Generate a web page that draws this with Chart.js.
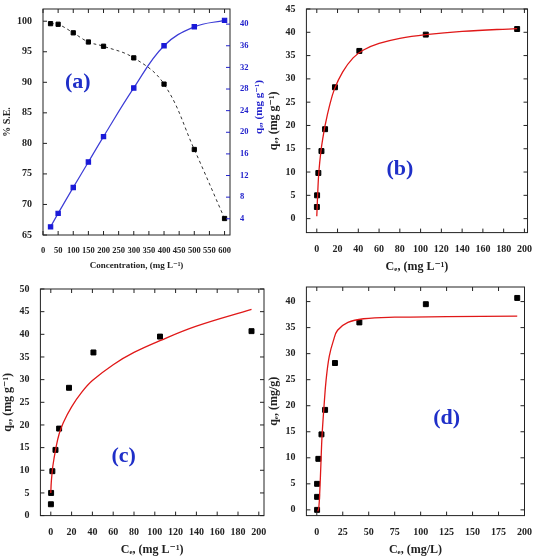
<!DOCTYPE html>
<html>
<head>
<meta charset="utf-8">
<script src="https://cdn.jsdelivr.net/npm/chart.js@4.4.0/dist/chart.umd.min.js"></script>
<style>
  body { margin: 0; background: #fff; width: 535px; height: 558px; position: relative; overflow: hidden; }
  .panel { position: absolute; }
</style>
</head>
<body>
<div class="panel" style="left:0;top:0;width:264px;height:272px"><canvas id="chartA"></canvas></div>
<div class="panel" style="left:266px;top:0;width:269px;height:275px"><canvas id="chartB"></canvas></div>
<div class="panel" style="left:0;top:280px;width:270px;height:278px"><canvas id="chartC"></canvas></div>
<div class="panel" style="left:266px;top:278px;width:269px;height:280px"><canvas id="chartD"></canvas></div>
<script>
// panel (a): effect of initial concentration
const concentration = [25, 50, 100, 150, 200, 300, 400, 500, 600];
const removalPct = [99.6, 99.5, 98.1, 96.6, 95.9, 94.0, 89.7, 79.0, 67.7];
const uptakeA = [2.5, 5.0, 9.8, 14.5, 19.2, 28.2, 36.0, 39.5, 40.7];

// equilibrium points shared by (b), (c), (d)
const ce = [0.1, 0.3, 1.5, 4.5, 8, 17.5, 41, 105, 193];
const qe = [2.5, 5.0, 9.8, 14.5, 19.2, 28.2, 36.0, 39.5, 40.7];
const ceD = [0.3, 0.3, 0.3, 1.5, 4.5, 8, 17.5, 41, 105, 193];
const qeD = [0, 2.5, 5.0, 9.8, 14.5, 19.2, 28.2, 36.0, 39.5, 40.7];

// fitted curves
const fitBx = [0, 1, 2, 4, 6, 8, 12, 17, 25, 35, 45, 60, 80, 105, 140, 193];
const fitBy = [0.5, 6, 10, 14.5, 17.5, 20, 24, 27.8, 31.5, 34.5, 36.2, 37.6, 38.7, 39.5, 40.2, 40.8];
const fitCx = [0, 0.5, 2, 5, 8, 12, 20, 30, 40, 60, 80, 105, 140, 193];
const fitCy = [5, 7.5, 11, 15, 18, 20.5, 24, 27.3, 29.8, 33.3, 36, 38.6, 41.8, 45.5];
const fitDx = [1, 2, 3, 4, 5, 7, 9, 12, 16, 20, 30, 45, 75, 125, 193];
const fitDy = [-0.3, 0.5, 4, 9, 14, 20, 25, 29.5, 32.5, 34.5, 36, 36.7, 37, 37.1, 37.2];

const serif = "'Liberation Serif', 'DejaVu Serif', serif";
const tickFont = { family: serif, size: 10, weight: "bold" };
const titleFont = { family: serif, size: 12, weight: "bold" };

function xy(xs, ys) {
  return xs.map((x, i) => ({ x, y: ys[i] }));
}

const frame = {
  id: "frame",
  afterDraw(chart, args, opts) {
    const { ctx, chartArea: a } = chart;
    ctx.save();
    ctx.strokeStyle = "#222";
    ctx.lineWidth = 1;
    ctx.strokeRect(a.left, a.top, a.right - a.left, a.bottom - a.top);
    // inward ticks on all sides
    const xs = chart.scales.x;
    xs.ticks.forEach((t) => {
      const px = xs.getPixelForValue(t.value);
      ctx.beginPath();
      ctx.moveTo(px, a.bottom); ctx.lineTo(px, a.bottom - 4);
      ctx.moveTo(px, a.top); ctx.lineTo(px, a.top + 4);
      ctx.stroke();
    });
    const ys = chart.scales.y;
    ys.ticks.forEach((t) => {
      const py = ys.getPixelForValue(t.value);
      ctx.beginPath();
      ctx.moveTo(a.left, py); ctx.lineTo(a.left + 4, py);
      if (!chart.scales.y2) { ctx.moveTo(a.right, py); ctx.lineTo(a.right - 4, py); }
      ctx.stroke();
    });
    if (chart.scales.y2) {
      const y2 = chart.scales.y2;
      ctx.strokeStyle = "#2222cc";
      y2.ticks.forEach((t) => {
        const py = y2.getPixelForValue(t.value);
        ctx.beginPath();
        ctx.moveTo(a.right, py); ctx.lineTo(a.right - 4, py);
        ctx.stroke();
      });
      // right title reads bottom-up like the left one
      ctx.save();
      ctx.translate(y2.right - 5, (a.top + a.bottom) / 2 - 15);
      ctx.rotate(-Math.PI / 2);
      ctx.fillStyle = "#2222cc";
      ctx.font = `bold 11px ${serif}`;
      ctx.textAlign = "center";
      ctx.textBaseline = "middle";
      ctx.fillText(opts.rightTitle, 0, 0);
      ctx.restore();
    }
    // panel letter
    ctx.fillStyle = "#1f2fc8";
    ctx.font = `bold 22px ${serif}`;
    ctx.textAlign = "center";
    ctx.textBaseline = "middle";
    ctx.fillText(opts.label, xs.getPixelForValue(opts.at[0]), ys.getPixelForValue(opts.at[1]));
    ctx.restore();
  },
};

function axis(min, max, step, title, pos, extra = {}) {
  return Object.assign({
    type: "linear", position: pos, min, max,
    afterBuildTicks: (s) => {
      const t = [];
      for (let v = Math.ceil(min / step) * step; v <= max + 1e-9; v += step) t.push({ value: v });
      s.ticks = t;
    },
    grid: { display: false },
    border: { display: false },
    ticks: { color: "#222", font: tickFont, padding: 3, maxRotation: 0, minRotation: 0, autoSkip: false },
    title: { display: !!title, text: title, color: "#222", font: titleFont, padding: 1 },
  }, extra);
}

function isotherm(id, points, fx, fy, xr, yr, yTitle, xTitle, label, at) {
  new Chart(document.getElementById(id), {
    type: "scatter",
    data: {
      datasets: [
        { data: xy(fx, fy), showLine: true, borderColor: "#e01818", borderWidth: 1.3, pointRadius: 0, tension: 0.4 },
        { data: points, pointStyle: "rect", pointRadius: 3.5, backgroundColor: "#000", borderColor: "#000" },
      ],
    },
    options: {
      responsive: true, maintainAspectRatio: false, animation: false,
      layout: { padding: { top: 3, right: 6 } },
      plugins: { legend: { display: false }, tooltip: { enabled: false }, frame: { label, at } },
      scales: {
        x: axis(xr[0], xr[1], xr[2], xTitle, "bottom"),
        y: axis(yr[0], yr[1], yr[2], yTitle, "left"),
      },
    },
    plugins: [frame],
  });
}

const smallFont = { family: serif, size: 8.5, weight: "bold" };
new Chart(document.getElementById("chartA"), {
  type: "scatter",
  data: {
    datasets: [
      { data: xy(concentration, removalPct), yAxisID: "y", showLine: true, borderColor: "#333", borderDash: [3, 3], borderWidth: 1, tension: 0.4,
        pointStyle: "rect", pointRadius: 3, backgroundColor: "#000", pointBorderColor: "#000" },
      { data: xy(concentration, uptakeA), yAxisID: "y2", showLine: true, borderColor: "#3b3bd6", borderWidth: 1.2, tension: 0.4,
        pointStyle: "rect", pointRadius: 3, backgroundColor: "#1a1ad8", pointBorderColor: "#1a1ad8" },
    ],
  },
  options: {
    responsive: true, maintainAspectRatio: false, animation: false,
    layout: { padding: { top: 3 } },
    plugins: { legend: { display: false }, tooltip: { enabled: false }, frame: { label: "(a)", at: [115, 90], rightTitle: "qₑ, (mg g⁻¹)" } },
    scales: {
      x: axis(0, 618, 50, "Concentration, (mg L⁻¹)", "bottom", {
        ticks: { color: "#222", font: smallFont, padding: 3, maxRotation: 0, minRotation: 0, autoSkip: false },
        title: { display: true, text: "Concentration, (mg L⁻¹)", color: "#222", font: { family: serif, size: 9, weight: "bold" }, padding: 1 },
      }),
      y: axis(65, 102, 5, "% S.E.", "left", {
        ticks: { color: "#222", font: tickFont, padding: 3 },
        title: { display: true, text: "% S.E.", color: "#222", font: { family: serif, size: 10, weight: "bold" }, padding: 1 },
      }),
      y2: axis(1, 42.8, 4, "", "right", {
        ticks: { color: "#2222cc", font: smallFont, padding: 2, autoSkip: false },
        afterFit: (s) => { s.width = 34; },
      }),
    },
  },
  plugins: [frame],
});

isotherm("chartB", xy(ce, qe), fitBx, fitBy, [-10, 203, 20], [-3, 45, 5], "qₑ, (mg g⁻¹)", "Cₑ, (mg L⁻¹)", "(b)", [80, 10.5]);
isotherm("chartC", xy(ce, qe), fitCx, fitCy, [-10, 205, 20], [0, 50, 5], "qₑ, (mg g⁻¹)", "Cₑ, (mg L⁻¹)", "(c)", [70, 13]);
isotherm("chartD", xy(ceD, qeD), fitDx, fitDy, [-10, 200, 25], [-1.1, 42.8, 5], "qₑ, (mg/g)", "Cₑ, (mg/L)", "(d)", [125, 17.5]);
</script>
</body>
</html>
